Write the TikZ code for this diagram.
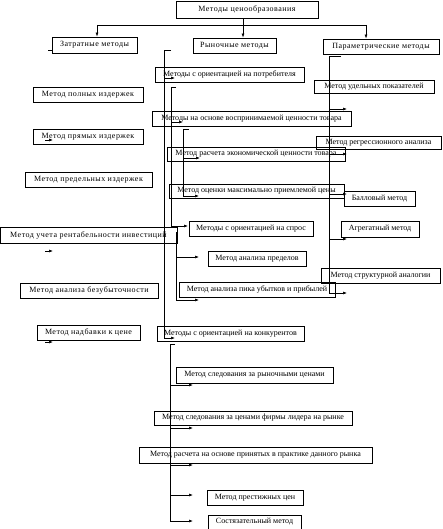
\documentclass[tikz,border=0pt]{standalone}
\usepackage{fontspec}
\setmainfont{Liberation Serif}
\usetikzlibrary{arrows.meta}

\begin{document}
\begin{tikzpicture}[x=1pt, y=-1pt,
  box/.style={draw, line width=0.9pt, inner sep=0pt, font=\fontsize{8}{9}\selectfont},
  wide/.style={box, font=\fontsize{8}{9}\selectfont\addfontfeature{LetterSpace=6}},
  ln/.style={line width=0.6pt},
  arr/.style={ln, -{Latex[length=4pt,width=3pt]}}]
  \useasboundingbox (0,0) rectangle (442,529);

  % groups
  \node[wide, minimum width=142, minimum height=17] (top) at (247,9.5) {Методы ценообразования};
  \node[wide, minimum width=85, minimum height=16] (zatr) at (94.5,45) {Затратные методы};
  \node[wide, minimum width=83, minimum height=15] (rin) at (234.5,45.5) {Рыночные методы};
  \node[wide, minimum width=116, minimum height=15] (par) at (381,46.5) {Параметрические методы};

  % cost methods
  \node[wide, minimum width=110, minimum height=15] (poln) at (88,94.5) {Метод полных издержек};
  \node[wide, minimum width=110, minimum height=15] (pryam) at (88,136.5) {Метод прямых издержек};
  \node[wide, minimum width=127, minimum height=15] (predizd) at (88.5,179.5) {Метод предельных издержек};
  \node[wide, minimum width=177, minimum height=16] (rent) at (88.5,235) {Метод учета рентабельности инвестиций};
  \node[wide, minimum width=138, minimum height=15] (bez) at (89,290.5) {Метод анализа безубыточности};
  \node[wide, minimum width=103, minimum height=15] (nadb) at (88.5,332.5) {Метод надбавки к цене};

  % market methods
  \node[box, minimum width=149, minimum height=15] (potr) at (229.5,74.5) {Методы с ориентацией на потребителя};
  \node[box, minimum width=199, minimum height=15] (vosp) at (251.5,118.5) {Методы на основе воспринимаемой ценности товара};
  \node[box, minimum width=178, minimum height=14] (ekon) at (256,154) {Метод расчета экономической ценности товара};
  \node[box, minimum width=175, minimum height=14] (maxc) at (256.5,191) {Метод оценки максимально приемлемой цены};
  \node[box, minimum width=124, minimum height=15] (spros) at (251,228.5) {Методы с ориентацией на спрос};
  \node[box, minimum width=98, minimum height=15] (predel) at (257,258.5) {Метод анализа пределов};
  \node[box, minimum width=156, minimum height=15] (pik) at (257,289.5) {Метод анализа пика убытков и прибылей};
  \node[box, minimum width=147, minimum height=15] (konk) at (230.5,333.5) {Методы с ориентацией на конкурентов};
  \node[box, minimum width=157, minimum height=16] (rynoch) at (254.5,375) {Метод следования за рыночными ценами};
  \node[box, minimum width=198, minimum height=14] (lider) at (253,418) {Метод следования за ценами фирмы лидера на рынке};
  \node[box, minimum width=233, minimum height=16] (prakt) at (255.5,455) {Метод расчета на основе принятых в практике данного рынка};
  \node[box, minimum width=96, minimum height=15] (prest) at (255,497.5) {Метод престижных цен};
  \node[box, minimum width=93, minimum height=14] (sost) at (254.5,522) {Состязательный метод};

  % parametric methods
  \node[box, minimum width=120, minimum height=13] (udel) at (374,86.5) {Метод удельных показателей};
  \node[box, minimum width=125, minimum height=13] (regr) at (378.5,142.5) {Метод регрессионного анализа};
  \node[box, minimum width=71, minimum height=15] (ball) at (379.5,198.5) {Балловый метод};
  \node[box, minimum width=78, minimum height=16] (agr) at (380,229) {Агрегатный метод};
  \node[box, minimum width=119, minimum height=15] (strukt) at (380.5,275.5) {Метод структурной аналогии};

  % top split
  \coordinate (hl) at (97,25);
  \coordinate (hr) at (366,25);
  \draw[ln] (hl) -- (hr);
  \draw[arr] ([xshift=-4pt]top.south) -- ([xshift=-4pt]top.south |- rin.north);
  \draw[arr] (hl) -- (hl |- zatr.north);
  \draw[arr] (hr) -- (hr |- par.north);
  \draw[ln] ([yshift=-5pt]zatr.west) -- ++(-4,0);

  % stray cost arrows
  \foreach \y in {140, 251, 342}
    \draw[arr] (45,\y) -- (53,\y);

  % market trunks
  \draw[arr] (171,50) -- (164,50) |- (175,338);
  \draw[arr] (164,78) -- (175,78);
  \draw[arr] (176,87) -- (171,87) |- (188,226);
  \draw[arr] (171,122) -- (183,122);
  \draw[arr] (189,129) -- (183,129) |- (199,196);
  \draw[arr] (183,158) -- (200,158);
  \draw[arr] (176,232) |- (199,300);
  \draw[arr] (176,257) -- (199,257);
  \draw[arr] (175,344) -- (170,344) |- (193,521);
  \foreach \y in {385, 428, 465, 495}
    \draw[arr] (170,\y) -- (193,\y);

  % parametric trunk
  \draw[arr] (341,56) -- (329,56) |- (347,293);
  \foreach \y in {109, 154, 194, 239}
    \draw[arr] (329,\y) -- (347,\y);
\end{tikzpicture}
\end{document}
